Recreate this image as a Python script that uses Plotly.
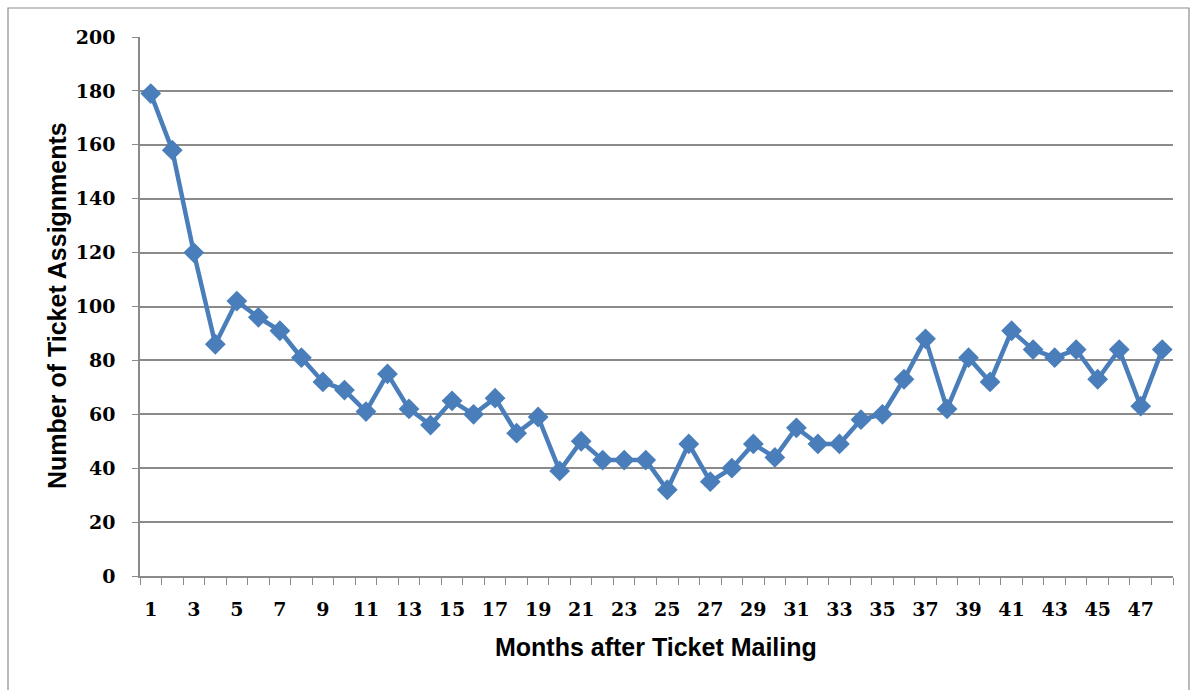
import plotly.graph_objects as go

months = list(range(1, 49))
assignments = [179, 158, 120, 86, 102, 96, 91, 81, 72, 69, 61, 75, 62, 56, 65, 60,
               66, 53, 59, 39, 50, 43, 43, 43, 32, 49, 35, 40, 49, 44, 55, 49,
               49, 58, 60, 73, 88, 62, 81, 72, 91, 84, 81, 84, 73, 84, 63, 84]
x_tick_vals = list(range(1, 49, 2))
x_tick_text = [str(v) for v in x_tick_vals]
y_tick_vals = list(range(0, 201, 20))

W, H = 1196, 690
L, R, T, B = 140, 23, 37, 114
pw, ph = W - L - R, H - T - B

fig = go.Figure()
fig.add_trace(go.Scatter(
    x=months, y=assignments, mode="lines+markers",
    line=dict(color="#4A7EBB", width=4.5),
    marker=dict(symbol="diamond", size=16, color="#4A7EBB"),
    showlegend=False, cliponaxis=False,
))

grid = "#8A8A8A"
tick_font = dict(family="DejaVu Serif, Liberation Serif", size=19, color="black", weight="bold")
fig.update_layout(
    width=W, height=H,
    margin=dict(l=L, r=R, t=T, b=B, autoexpand=False),
    paper_bgcolor="white", plot_bgcolor="white",
    xaxis=dict(
        range=[0.5, 48.5], tickmode="array", tickvals=x_tick_vals, ticktext=x_tick_text,
        ticks="", showgrid=False, zeroline=False,
        showline=True, linecolor=grid, linewidth=1.5,
        tickfont=tick_font, ticklabelstandoff=15,
        minor=dict(tick0=0.5, dtick=1, ticks="outside", ticklen=7, tickcolor=grid, tickwidth=1.2, showgrid=False),
        fixedrange=True,
    ),
    yaxis=dict(
        range=[0, 200], tickmode="array", tickvals=y_tick_vals,
        ticks="outside", ticklen=6, tickcolor=grid, tickwidth=1.2,
        showgrid=True, gridcolor=grid, gridwidth=1.5, zeroline=False,
        showline=True, linecolor=grid, linewidth=1.5,
        tickfont=tick_font, ticklabelstandoff=13,
        fixedrange=True,
    ),
)

fig.add_annotation(
    text="<b>Months after Ticket Mailing</b>", xref="paper", yref="paper",
    x=(656 - L) / pw, y=-(647 - (T + ph)) / ph, showarrow=False,
    font=dict(family="Liberation Sans, Arial", size=25, color="black"),
    xanchor="center", yanchor="middle",
)
fig.add_annotation(
    text="<b>Number of Ticket Assignments</b>", xref="paper", yref="paper",
    x=-(L - 57) / pw, y=(576 - 306) / ph, showarrow=False, textangle=-90,
    font=dict(family="Liberation Sans, Arial", size=25, color="black"),
    xanchor="center", yanchor="middle",
)
# outer chart frame
fig.add_shape(
    type="rect", xref="paper", yref="paper",
    x0=(8 - L) / pw, x1=(1189 - L) / pw,
    y0=-(H + 5 - (T + ph)) / ph, y1=(T + ph - 8) / ph,
    line=dict(color="#8C8C8C", width=1.2), layer="below",
)

fig.write_html("out.html")
